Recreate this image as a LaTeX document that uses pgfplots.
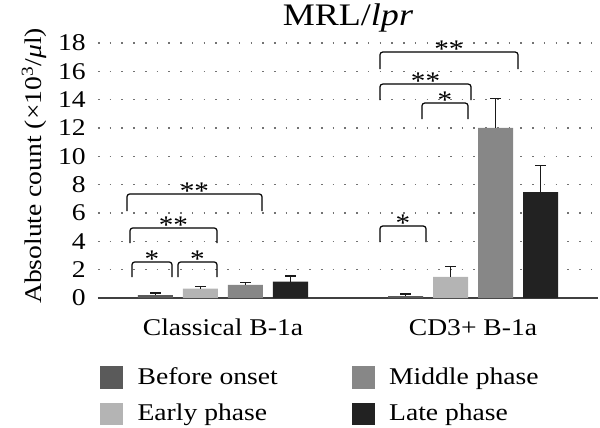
\documentclass[border=0pt]{standalone}
\usepackage{fontspec}
\setmainfont{Liberation Serif}[FakeStretch=1.15]
\usepackage{pgfplots}
\pgfplotsset{compat=1.18}
\definecolor{cBefore}{HTML}{5A5A5A}
\definecolor{cEarly}{HTML}{B4B4B4}
\definecolor{cMiddle}{HTML}{878787}
\definecolor{cLate}{HTML}{222222}
\begin{document}
\fontsize{18}{21}\selectfont
\begin{tikzpicture}[font=\fontsize{18}{21}\selectfont]
\begin{axis}[
  scale only axis, width=375pt, height=191.25pt,
  xmin=-0.5, xmax=1.5, ymin=0, ymax=18,
  ybar=7.5pt, bar width=26.25pt,
  axis lines*=left,
  y axis line style={draw=none},
  x axis line style={draw=black!75, line width=0.9pt},
  major tick length=0pt,
  ytick={0,2,...,18},
  xtick={0,1}, xticklabels={Classical B-1a, CD3+ B-1a},
  /pgf/number format/assume math mode=true,
  yticklabel style={xshift=-3pt},
  xticklabel style={anchor=base, yshift=-28pt},
  ymajorgrids,
  grid style={draw=black!55, line width=0.9pt, dash pattern=on 1.2pt off 7.6pt},
  title={MRL/\textit{lpr}},
  title style={at={(axis description cs:0.5,1.066)}, anchor=center, font=\fontsize{23.5}{26}\selectfont},
  ylabel={Absolute count (×10\textsuperscript{3}/\textit{μ}l)},
  ylabel style={at={(axis description cs:-0.128,0.518)}, anchor=center},
  clip=false,
  error bars/y dir=plus, error bars/y explicit,
  error bars/error bar style={draw=black!90, line width=0.9pt},
  error bars/error mark options={rotate=90, mark size=4pt, line width=0.9pt, draw=black!90},
  legend columns=2, transpose legend,
  legend cell align=left,
  legend style={draw=none, fill=none, at={(axis description cs:0.004,-0.26)}, anchor=north west,
    /tikz/every odd column/.append style={column sep=9pt},
    /tikz/every even column/.append style={column sep=53.5pt},
    row sep=8pt, inner sep=0pt},
  legend image code/.code={\fill[#1] (0pt,-8.5pt) rectangle (17pt,8.5pt);},
]
\addplot[fill=cBefore, draw=none] coordinates {(0,0.20) +- (0,0.16) (1,0.14) +- (0,0.14)};
\addplot[fill=cEarly, draw=none] coordinates {(0,0.66) +- (0,0.14) (1,1.50) +- (0,0.70)};
\addplot[fill=cMiddle, draw=none] coordinates {(0,0.93) +- (0,0.16) (1,12.0) +- (0,2.07)};
\addplot[fill=cLate, draw=none] coordinates {(0,1.15) +- (0,0.40) (1,7.48) +- (0,1.90)};
\legend{Before onset, Early phase, Middle phase, Late phase}
% significance brackets
\begin{scope}[line width=0.9pt, rounded corners=2pt]
\draw (axis cs:-0.364,1.48) -- (axis cs:-0.364,2.54) -- (axis cs:-0.204,2.54) -- (axis cs:-0.204,1.48);
\draw (axis cs:-0.180,1.48) -- (axis cs:-0.180,2.54) -- (axis cs:-0.024,2.54) -- (axis cs:-0.024,1.48);
\draw (axis cs:-0.372,3.88) -- (axis cs:-0.372,4.94) -- (axis cs:-0.024,4.94) -- (axis cs:-0.024,3.88);
\draw (axis cs:-0.384,6.14) -- (axis cs:-0.384,7.34) -- (axis cs:0.156,7.34) -- (axis cs:0.156,6.14);
\draw (axis cs:0.628,3.95) -- (axis cs:0.628,5.08) -- (axis cs:0.812,5.08) -- (axis cs:0.812,3.95);
\draw (axis cs:0.796,12.63) -- (axis cs:0.796,13.76) -- (axis cs:0.980,13.76) -- (axis cs:0.980,12.63);
\draw (axis cs:0.628,13.97) -- (axis cs:0.628,15.10) -- (axis cs:0.992,15.10) -- (axis cs:0.992,13.97);
\draw (axis cs:0.628,16.16) -- (axis cs:0.628,17.36) -- (axis cs:1.180,17.36) -- (axis cs:1.180,16.16);
\end{scope}
\begin{scope}[every node/.style={anchor=base, inner sep=0pt, yshift=-4pt, font=\fontsize{19}{19}\selectfont}]
\node at (axis cs:-0.284,2.54) {*};
\node at (axis cs:-0.102,2.54) {*};
\node at (axis cs:-0.198,4.94) {**};
\node at (axis cs:-0.114,7.34) {**};
\node at (axis cs:0.720,5.08) {*};
\node at (axis cs:0.888,13.76) {*};
\node at (axis cs:0.810,15.10) {**};
\node at (axis cs:0.904,17.36) {**};
\end{scope}
\end{axis}
\pgfresetboundingbox
\path[use as bounding box] (-73.5pt,-97.5pt) rectangle (376.5pt,223.5pt);
\end{tikzpicture}
\end{document}
